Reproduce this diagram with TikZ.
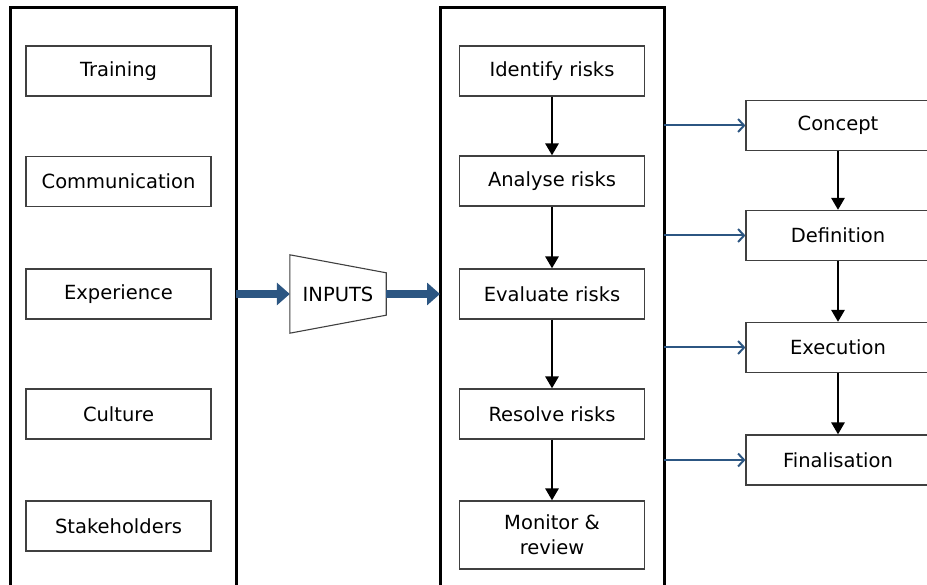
\documentclass[tikz,border=0pt]{standalone}
\usepackage{fontspec}
\setmainfont{DejaVu Sans}
\usetikzlibrary{arrows.meta,calc}

\definecolor{arrowblue}{RGB}{44,86,130}
\definecolor{boxgrey}{RGB}{64,64,64}

\tikzset{
  box/.style={draw=boxgrey,line width=1.2pt,minimum width=185pt,minimum height=50pt,
    inner sep=0pt,align=center,font=\fontsize{19.5}{25}\selectfont},
  phasebox/.style={box,minimum width=240pt},
  panel/.style={line width=3pt},
  downarrow/.style={line width=2.8pt,-{Triangle[length=12pt,width=13pt]}},
  sidearrow/.style={arrowblue,line width=2pt,-{Straight Barb[length=6pt,width=13pt,line width=2pt]}},
  fatarrow/.style={arrowblue,line width=7.5pt,-{Triangle[length=13pt,width=22pt]}}
}

\begin{document}
\begin{tikzpicture}[x=1pt,y=1pt,yscale=-1]
\useasboundingbox (0,0) rectangle (927,585);
\clip (0,0) rectangle (927,585);

%Panels (open at bottom)
\draw [panel] (10,587) -- (10,8) -- (236,8) -- (236,587);
\draw [panel] (440,587) -- (440,8) -- (664,8) -- (664,587);

% Left column
\node [box] (training) at (118.5,71) {Training};
\node [box] (communication) at (118.5,181.5) {Communication};
\node [box] (experience) at (118.5,294) {Experience};
\node [box] (culture) at (118.5,414) {Culture};
\node [box] (stakeholders) at (118.5,526) {Stakeholders};

% Middle column
\node [box] (identify) at (552,71) {Identify risks};
\node [box] (analyse) at (552,181) {Analyse risks};
\node [box] (evaluate) at (552,294) {Evaluate risks};
\node [box] (resolve) at (552,414) {Resolve risks};
\node [box,minimum height=68pt] (monitor) at (552,535) {Monitor \&\\review};

% Right column (runs off the page)
\node [phasebox] (concept) at (866,125.5) {\hspace*{-56pt}Concept};
\node [phasebox] (definition) at (866,235.5) {\hspace*{-56pt}Definition};
\node [phasebox] (execution) at (866,347.5) {\hspace*{-56pt}Execution};
\node [phasebox] (finalisation) at (866,460) {\hspace*{-56pt}Finalisation};

% Inputs
\node [minimum width=96pt,minimum height=78pt,inner sep=0pt,font=\fontsize{19.5}{25}\selectfont] (inputs) at (338,294) {INPUTS};
\draw [boxgrey,line width=1.1pt] (inputs.north west) -- ($(inputs.north east)+(0,18)$)
  -- ($(inputs.south east)+(0,-18)$) -- (inputs.south west) -- cycle;

\coordinate (leftedge) at (236,294);
\coordinate (midedge) at (440,294);
\draw [fatarrow] (leftedge) -- (inputs.west);
\draw [fatarrow] (inputs.east) -- (midedge);

% Process arrows
\draw [downarrow] (identify.south) -- (analyse.north);
\draw [downarrow] (analyse.south) -- (evaluate.north);
\draw [downarrow] (evaluate.south) -- (resolve.north);
\draw [downarrow] (resolve.south) -- (monitor.north);

\draw [downarrow] ($(concept.south)+(-28,0)$) -- ($(definition.north)+(-28,0)$);
\draw [downarrow] ($(definition.south)+(-28,0)$) -- ($(execution.north)+(-28,0)$);
\draw [downarrow] ($(execution.south)+(-28,0)$) -- ($(finalisation.north)+(-28,0)$);

% Links to phases
\foreach \phase in {concept,definition,execution,finalisation}
  \draw [sidearrow] (664,0 |- \phase.west) -- (\phase.west);

\end{tikzpicture}
\end{document}
